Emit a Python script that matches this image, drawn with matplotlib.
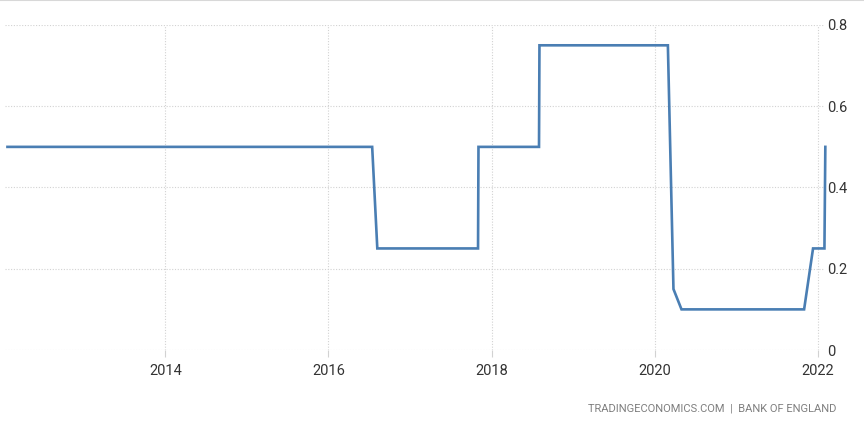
import pandas as pd
import numpy as np
import matplotlib
matplotlib.use('Agg')
import matplotlib.pyplot as plt
from matplotlib.lines import Line2D

# Bank of England interest rate (%)
dates = ['2012-01-25', '2016-07-15', '2016-08-07', '2017-11-01', '2017-11-03',
         '2018-08-01', '2018-08-03', '2020-02-29', '2020-03-25', '2020-04-30',
         '2021-10-31', '2021-12-10', '2022-01-30', '2022-02-03']
rates = [0.5, 0.5, 0.25, 0.25, 0.5,
         0.5, 0.75, 0.75, 0.15, 0.1,
         0.1, 0.25, 0.25, 0.5]
year_ticks = [2014, 2016, 2018, 2020, 2022]
rate_ticks = [0, 0.2, 0.4, 0.6, 0.8]
source = 'TRADINGECONOMICS.COM  |  BANK OF ENGLAND'

plt.rcParams['font.family'] = ['Roboto', 'DejaVu Sans']

x = pd.to_datetime(dates)
xticks = [pd.Timestamp(f'{y}-01-01') for y in year_ticks]

fig = plt.figure(figsize=(8.64, 4.23), dpi=100)
ax = fig.add_axes([5 / 864, 1 - 350 / 423, 821 / 864, 325 / 423])

ax.set_xlim(pd.Timestamp('2012-01-14'), pd.Timestamp('2022-02-06'))
ax.set_ylim(0, 0.8)

# dotted grid, horizontal lines stop just short of the labels
grid_kw = dict(color='#d2d2d2', linewidth=0.8, linestyle=(0, (1, 1.5)), zorder=1)
for t in xticks:
    ax.axvline(t, **grid_kw)
for r in rate_ticks:
    ax.axhline(r, xmin=0, xmax=818 / 821, **grid_kw)

ax.plot(x, rates, color='#4a7eb3', linewidth=1.9, zorder=3,
        solid_joinstyle='miter', clip_on=False)

for s in ax.spines.values():
    s.set_visible(False)

ax.set_xticks(xticks)
ax.set_xticklabels([str(y) for y in year_ticks])
ax.yaxis.tick_right()
ax.set_yticks(rate_ticks)
ax.set_yticklabels(['0', '0.2', '0.4', '0.6', '0.8'])
ax.tick_params(axis='x', length=5, color='#d2d2d2', pad=5, labelsize=10.5,
               labelcolor='#333333')
ax.tick_params(axis='y', length=0, pad=1, labelsize=10.5, labelcolor='#333333')

fig.text(836 / 864, 1 - 408 / 423, source, ha='right', va='center',
         fontsize=8, color='#7f7f7f')

# thin border line at the top of the image
fig.add_artist(Line2D([0, 1], [1 - 0.5 / 423, 1 - 0.5 / 423], color='#d8d8d8',
                      linewidth=1.5, transform=fig.transFigure))

fig.savefig('out.png', dpi=100, facecolor='white')
